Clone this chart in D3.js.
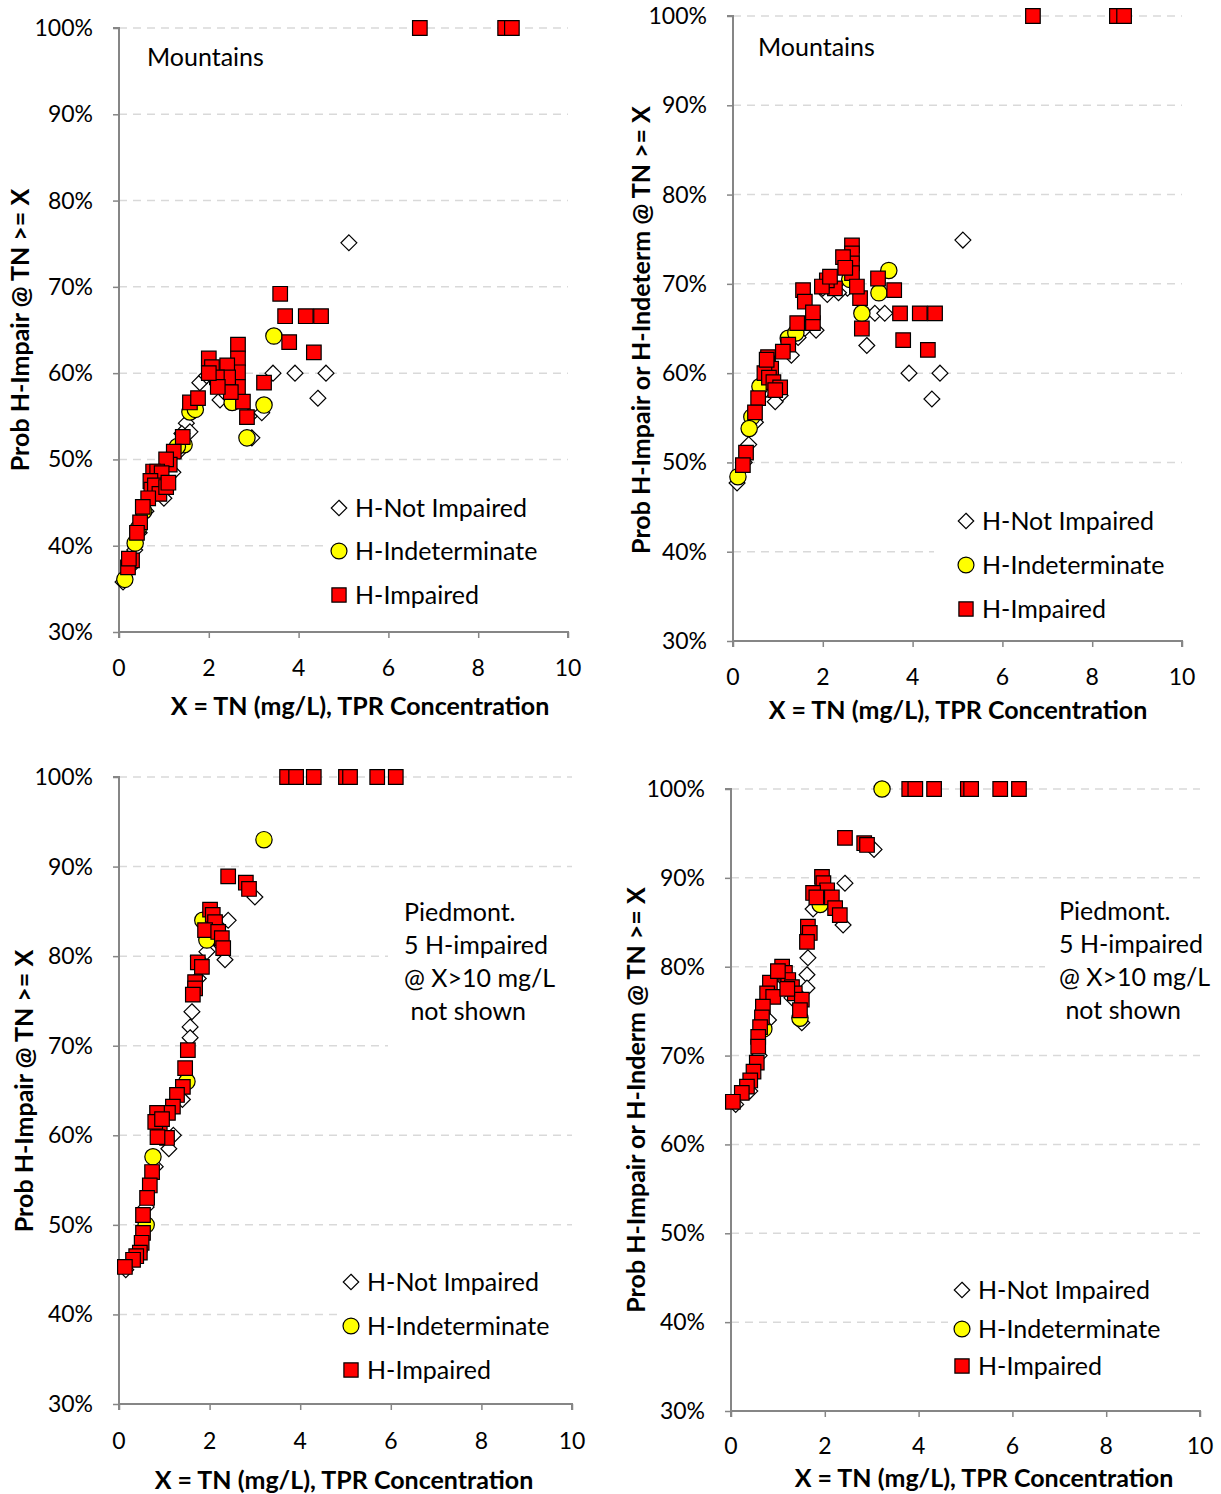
<!DOCTYPE html>
<html>
<head>
<meta charset="utf-8">
<script src="https://cdn.jsdelivr.net/npm/d3@7"></script>
<style>
  body { margin: 0; background: #fff; }
  text { font-family: Lato, "Open Sans", sans-serif; fill: #000; }
</style>
</head>
<body>
<div id="chart"></div>
<script>
// tick values shared by all four panels
var xTicks = [0, 2, 4, 6, 8, 10];
var yTicks = [30, 40, 50, 60, 70, 80, 90, 100];
var legendLabels = ['H-Not Impaired', 'H-Indeterminate', 'H-Impaired'];

// panel 1: Mountains, P(H-Impair | TN >= x)   [x mg/L, y %]
var p1NotImpaired = [[5.12,75.1],[3.43,60.0],[3.92,60.0],[4.61,60.0],[4.43,57.1],[3.18,55.4],[2.96,52.5],[1.80,58.9],[1.95,59.7],
  [2.25,56.9],[1.50,54.2],[1.58,53.2],[1.35,51.0],[1.20,48.5],[1.00,45.5],[0.80,46.0],[0.60,44.0],[0.45,41.5],[0.35,39.5],
  [0.25,37.5],[0.09,35.8],[1.40,53.0],[2.40,57.5],[2.90,55.0]];
var p1Indeterminate = [[3.45,64.3],[3.23,56.3],[2.85,52.5],[2.52,56.6],[1.58,55.5],[1.70,55.8],[1.45,51.7],[0.43,42.0],
  [0.36,40.3],[0.13,36.1],[1.30,51.5],[0.55,44.0]];
var p1Impaired = [[6.70,100],[8.60,100],[8.75,100],[3.59,69.2],[3.70,66.6],[4.16,66.6],[4.50,66.6],[3.79,63.6],[4.34,62.4],
  [3.23,58.9],[2.85,54.9],[2.76,56.7],[2.65,63.3],[2.65,61.7],[2.65,60.1],[2.65,58.4],[2.41,60.9],[2.43,59.5],[2.49,57.8],
  [2.00,61.7],[2.07,60.7],[2.18,59.5],[2.20,58.4],[2.00,60.0],[1.58,56.6],[1.76,57.1],[1.42,52.6],[1.22,50.9],[1.13,49.4],
  [1.05,50.0],[0.76,48.6],[0.85,48.6],[0.95,48.4],[0.70,47.5],[0.72,46.5],[0.80,47.0],[0.90,46.0],[1.05,46.8],[1.10,47.3],
  [0.65,45.5],[0.53,44.5],[0.47,42.7],[0.40,41.5],[0.29,38.3],[0.20,37.5],[0.22,38.5]];

// panel 2: Mountains, P(H-Impair or H-Indeterm | TN >= x)
var p2NotImpaired = [[5.12,74.9],[3.16,66.7],[3.38,66.7],[3.92,60.0],[4.61,60.0],[4.43,57.1],[2.98,63.1],[2.55,69.5],[2.35,69.0],
  [2.10,68.8],[1.85,64.8],[1.60,65.0],[1.30,62.0],[1.05,57.5],[0.94,56.8],[0.70,58.0],[0.50,54.5],[0.35,52.0],[0.25,50.0],
  [0.09,47.7],[1.45,64.0],[2.00,69.5]];
var p2Indeterminate = [[3.47,71.5],[3.25,69.0],[2.87,66.7],[2.60,70.5],[1.23,63.9],[1.40,64.5],[0.42,55.1],[0.36,53.8],
  [0.11,48.4],[0.60,58.5]];
var p2Impaired = [[6.68,100],[8.55,100],[8.71,100],[2.65,74.3],[2.65,73.4],[2.65,72.3],[2.65,71.2],[2.45,73.0],[2.50,71.8],
  [3.23,70.6],[3.59,69.3],[3.72,66.7],[4.16,66.7],[4.50,66.7],[3.79,63.7],[4.34,62.6],[2.87,65.0],[2.83,68.4],[2.76,69.7],
  [2.27,69.5],[2.09,70.4],[1.98,69.7],[2.16,70.8],[1.56,69.3],[1.60,68.0],[1.43,65.6],[1.78,65.6],[1.78,66.8],[1.23,63.2],
  [1.11,62.4],[0.78,61.8],[0.76,61.1],[0.85,60.5],[0.70,60.0],[0.80,59.5],[0.90,59.0],[1.05,58.4],[0.94,58.1],[0.75,61.5],
  [0.56,57.2],[0.49,55.6],[0.29,51.1],[0.22,49.7]];

// panel 3: Piedmont, P(H-Impair | TN >= x)
var p3NotImpaired = [[3.00,86.6],[2.41,84.0],[2.34,79.6],[1.94,80.5],[1.61,73.8],[1.57,72.1],[1.57,70.9],[1.40,64.0],
  [1.20,60.0],[1.10,58.5],[0.80,56.5],[0.60,52.0],[0.45,47.0],[0.15,45.0],[1.75,77.5],[2.20,81.5]];
var p3Indeterminate = [[3.20,93.0],[1.94,81.8],[0.75,57.6],[1.85,84.0],[1.50,66.0],[0.60,50.0]];
var p3Impaired = [[3.71,100],[3.91,100],[4.30,100],[5.01,100],[5.10,100],[5.70,100],[6.11,100],[2.41,88.9],[2.80,88.2],
  [2.87,87.5],[2.01,85.2],[2.07,84.6],[2.12,83.8],[1.90,82.9],[2.19,82.7],[2.27,82.0],[2.30,80.9],[1.74,79.3],[1.83,78.8],
  [1.68,77.1],[1.68,76.4],[1.63,75.7],[1.52,69.5],[1.46,67.5],[1.41,65.4],[1.28,64.5],[1.19,63.2],[1.08,62.5],[0.84,62.5],
  [0.90,60.9],[1.06,59.7],[0.80,61.5],[0.95,61.8],[0.85,59.8],[0.73,55.9],[0.68,54.4],[0.62,53.0],[0.53,51.1],[0.53,49.1],
  [0.50,48.0],[0.46,46.9],[0.38,46.5],[0.31,46.1],[0.13,45.3]];

// panel 4: Piedmont, P(H-Impair or H-Inderm | TN >= x)
var p4NotImpaired = [[3.05,93.2],[2.43,89.4],[2.39,84.7],[1.75,86.5],[1.64,81.0],[1.62,79.1],[1.62,77.6],[1.51,73.7],
  [1.30,76.5],[1.00,77.5],[0.80,74.0],[0.60,70.0],[0.40,66.0],[0.10,64.5],[2.00,87.5]];
var p4Indeterminate = [[3.22,100],[1.47,74.2],[1.90,87.0],[0.70,73.0]];
var p4Impaired = [[3.80,100],[3.93,100],[4.33,100],[5.05,100],[5.12,100],[5.74,100],[6.14,100],[2.43,94.5],[2.84,93.9],
  [2.90,93.7],[1.94,90.1],[1.97,89.4],[2.05,88.6],[1.75,88.3],[1.82,87.8],[2.15,87.8],[2.22,86.6],[2.32,85.8],[1.64,84.5],
  [1.68,83.8],[1.62,82.8],[1.09,80.0],[1.15,79.3],[1.22,78.5],[1.30,77.7],[1.36,77.0],[1.51,76.3],[1.47,75.1],[0.83,78.2],
  [0.77,77.0],[0.90,76.6],[0.68,75.5],[0.66,74.3],[0.62,73.2],[0.58,72.1],[0.58,71.0],[0.55,69.2],[0.48,68.2],[0.41,67.2],
  [0.34,66.5],[0.23,65.8],[0.04,64.8],[1.00,79.5],[1.20,77.5]];

var svg = d3.select('#chart').append('svg')
  .attr('width', 1221)
  .attr('height', 1494);

var panels = [
  { l:119, r:568, t:28, b:632, tickRight:93, xLabY:676, xTitleX:360, xTitleY:715,
    yTitle:'Prob H-Impair @ TN >= X', yTitleX:20, yTitleY:330,
    ni:p1NotImpaired, ind:p1Indeterminate, imp:p1Impaired,
    note:['Mountains'], noteX:147, noteY:66, noteBox:null,
    legX:339, legY:[508,551,595], legBox:[326,490,242,122] },
  { l:733, r:1182, t:16, b:641, tickRight:707, xLabY:685, xTitleX:958, xTitleY:719,
    yTitle:'Prob H-Impair or H-Indeterm @ TN >= X', yTitleX:641, yTitleY:330,
    ni:p2NotImpaired, ind:p2Indeterminate, imp:p2Impaired,
    note:['Mountains'], noteX:758, noteY:56, noteBox:null,
    legX:966, legY:[521,565,609], legBox:[934,500,250,126] },
  { l:119, r:572, t:777, b:1404, tickRight:93, xLabY:1449, xTitleX:344, xTitleY:1489,
    yTitle:'Prob H-Impair @ TN >= X', yTitleX:24, yTitleY:1091,
    ni:p3NotImpaired, ind:p3Indeterminate, imp:p3Impaired,
    note:['Piedmont.', '5 H-impaired', '@ X>10 mg/L', ' not shown'], noteX:404, noteY:921, noteBox:[388,893,186,160],
    legX:351, legY:[1282,1326,1370], legBox:[338,1262,236,126] },
  { l:731, r:1200, t:789, b:1411, tickRight:705, xLabY:1454, xTitleX:984, xTitleY:1487,
    yTitle:'Prob H-Impair or H-Inderm @ TN >= X', yTitleX:636, yTitleY:1100,
    ni:p4NotImpaired, ind:p4Indeterminate, imp:p4Impaired,
    note:['Piedmont.', '5 H-impaired', '@ X>10 mg/L', ' not shown'], noteX:1059, noteY:920, noteBox:[1045,892,160,162],
    legX:962, legY:[1290,1329,1366], legBox:[948,1272,256,112] }
];

var markerSym = [d3.symbolDiamond2, d3.symbolCircle, d3.symbolSquare2];
var markerSize = [160, 210, 270];
var markerFill = ['#FFFFFF', '#FFFF00', '#FF0000'];
var textSize = 25;

var drawPanel = function(p) {
  var x = d3.scaleLinear().domain([0, 10]).range([p.l, p.r]);
  var y = d3.scaleLinear().domain([30, 100]).range([p.b, p.t]);
  var g = svg.append('g');

  // dashed gridlines
  g.selectAll('line.grid').data(yTicks.slice(1)).enter().append('line')
    .attr('x1', p.l).attr('x2', p.r)
    .attr('y1', function(d){ return y(d); }).attr('y2', function(d){ return y(d); })
    .attr('stroke', '#D9D9D9').attr('stroke-width', 1.5).attr('stroke-dasharray', '8,6');

  // white boxes for the text and legend (they hide the gridlines)
  if (p.noteBox) {
    g.append('rect').attr('x', p.noteBox[0]).attr('y', p.noteBox[1])
      .attr('width', p.noteBox[2]).attr('height', p.noteBox[3]).attr('fill', '#fff');
  }
  g.append('rect').attr('x', p.legBox[0]).attr('y', p.legBox[1])
    .attr('width', p.legBox[2]).attr('height', p.legBox[3]).attr('fill', '#fff');

  // axes
  var xAxis = g.append('g').attr('transform', 'translate(0,' + p.b + ')')
    .call(d3.axisBottom(x).tickValues(xTicks).tickSize(6).tickFormat(''));
  var yAxis = g.append('g').attr('transform', 'translate(' + p.l + ',0)')
    .call(d3.axisLeft(y).tickValues(yTicks).tickSize(6).tickFormat(''));
  [xAxis, yAxis].forEach(function(a){
    a.select('.domain').attr('stroke', '#868686').attr('stroke-width', 2);
    a.selectAll('.tick line').attr('stroke', '#868686').attr('stroke-width', 1.5);
  });
  xAxis.select('.domain').attr('d', 'M' + p.l + ',6V0H' + p.r + 'V6');
  yAxis.select('.domain').attr('d', 'M-6,' + p.t + 'H0V' + p.b);

  g.selectAll('text.xl').data(xTicks).enter().append('text')
    .attr('x', function(d){ return x(d); }).attr('y', p.xLabY)
    .attr('text-anchor', 'middle').attr('font-size', 23)
    .text(function(d){ return d; });
  g.selectAll('text.yl').data(yTicks).enter().append('text')
    .attr('x', p.tickRight).attr('y', function(d){ return y(d) + 8; })
    .attr('text-anchor', 'end').attr('font-size', 23)
    .text(function(d){ return d + '%'; });

  g.append('text').attr('x', p.xTitleX).attr('y', p.xTitleY)
    .attr('text-anchor', 'middle').attr('font-size', textSize).attr('font-weight', 'bold')
    .text('X = TN (mg/L), TPR Concentration');
  g.append('text')
    .attr('transform', 'translate(' + (p.yTitleX + 9) + ',' + p.yTitleY + ') rotate(-90)')
    .attr('text-anchor', 'middle').attr('font-size', textSize).attr('font-weight', 'bold')
    .text(p.yTitle);

  // note text
  g.selectAll('text.note').data(p.note).enter().append('text')
    .attr('x', p.noteX).attr('y', function(d, i){ return p.noteY + i * 33; })
    .attr('font-size', textSize).attr('xml:space', 'preserve')
    .text(function(d){ return d; });

  // points: not impaired, indeterminate, impaired (impaired drawn last, on top)
  [p.ni, p.ind, p.imp].forEach(function(series, k){
    g.selectAll(null).data(series).enter().append('path')
      .attr('d', d3.symbol().type(markerSym[k]).size(markerSize[k]))
      .attr('transform', function(d){ return 'translate(' + x(d[0]) + ',' + y(d[1]) + ')'; })
      .attr('fill', markerFill[k]).attr('stroke', '#000').attr('stroke-width', 1.2);
  });

  // legend
  legendLabels.forEach(function(lab, k){
    g.append('path')
      .attr('d', d3.symbol().type(markerSym[k]).size(markerSize[k] * 0.95))
      .attr('transform', 'translate(' + p.legX + ',' + p.legY[k] + ')')
      .attr('fill', markerFill[k]).attr('stroke', '#000').attr('stroke-width', 1.2);
    g.append('text').attr('x', p.legX + 16).attr('y', p.legY[k] + 9)
      .attr('font-size', textSize).text(lab);
  });
};

panels.forEach(drawPanel);
</script>
</body>
</html>
